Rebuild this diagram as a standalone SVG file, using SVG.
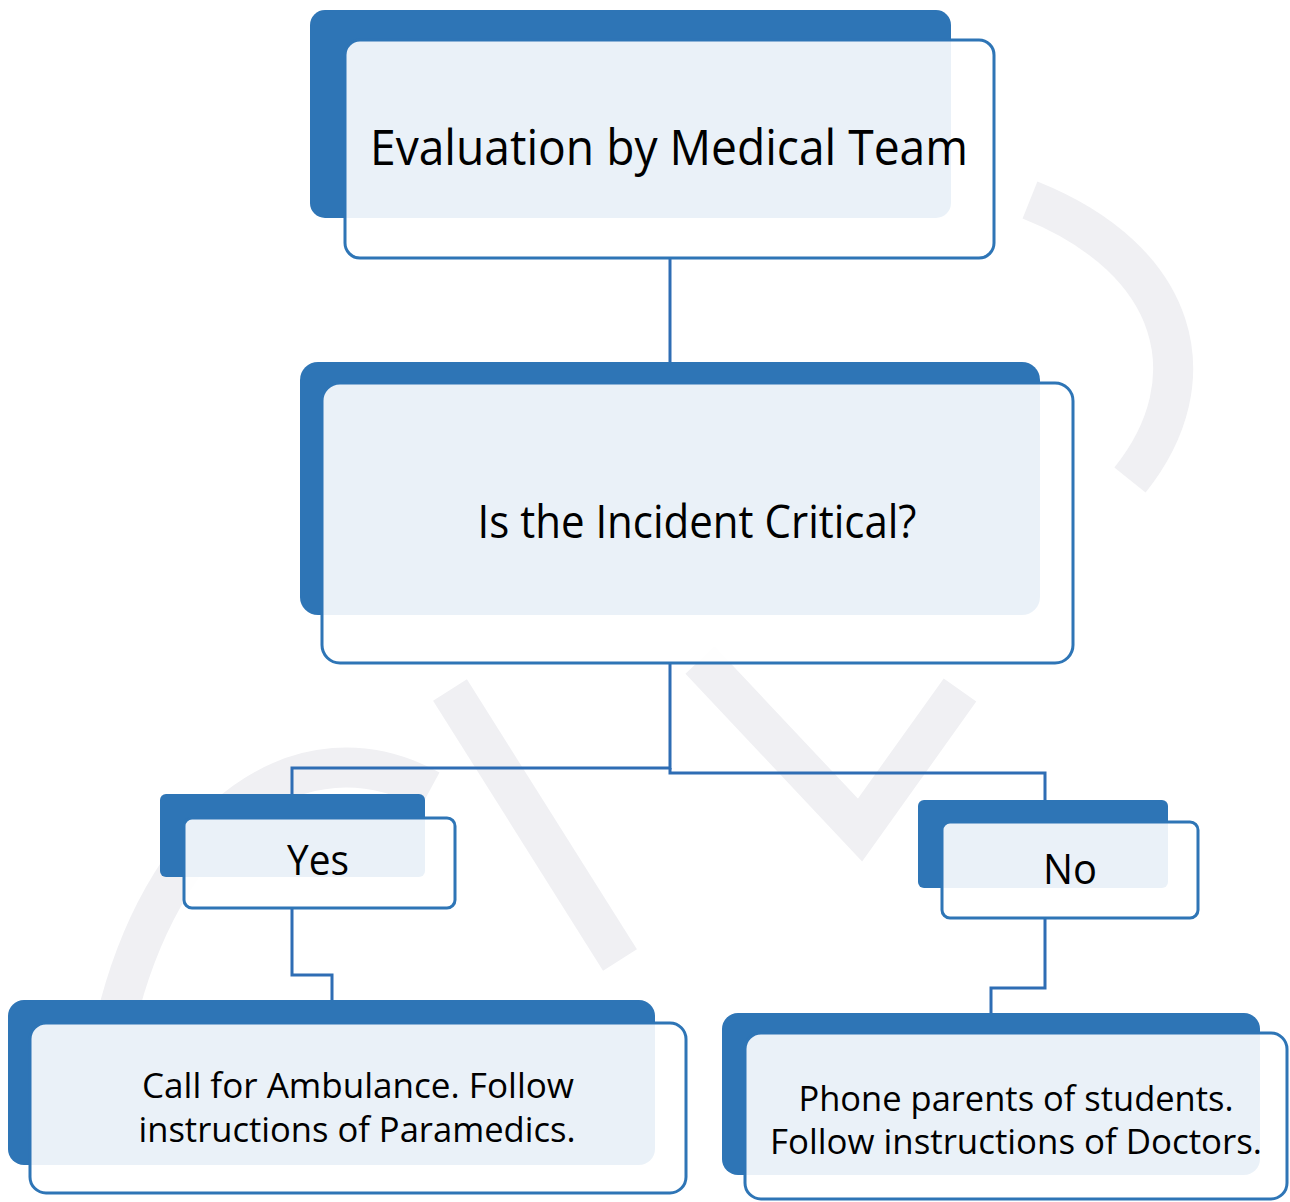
<svg xmlns="http://www.w3.org/2000/svg" width="1290" height="1202" viewBox="0 0 1290 1202">
  <style>
    .back { fill: #2E75B6; }
    .front { fill: #FFFFFF; fill-opacity: 0.9; stroke: #2E75B6; stroke-width: 3; }
    .lbl { font-family: "Open Sans", "Noto Sans", sans-serif; fill: #000000; text-anchor: middle; }
    .conn { fill: none; stroke: #2E6DB4; stroke-width: 3; }
    .wm { fill: none; stroke: #F0F0F3; stroke-width: 40; stroke-linecap: butt; }
  </style>
  <rect width="1290" height="1202" fill="#FFFFFF"/>
  <g id="watermark">
    <path class="wm" d="M 120 1005 C 170 820 300 720 430 790"/>
    <path class="wm" d="M 450 690 L 620 960"/>
    <path class="wm" d="M 700 660 L 860 830 L 960 690"/>
    <path class="wm" d="M 1030 200 C 1180 260 1210 380 1130 480"/>
  </g>
  <g id="connectors">
    <path class="conn" d="M 670 258 V 385" stroke-width="1.5"/>
    <path class="conn" d="M 292 794 V 768 H 670 V 663"/>
    <path class="conn" d="M 670 768 V 773 H 1045 V 800"/>
    <path class="conn" d="M 292 908 V 975 H 332 V 1000"/>
    <path class="conn" d="M 1045 918 V 988 H 991 V 1013"/>
  </g>
  <g id="node-evaluation">
    <rect class="back" x="310" y="10" width="641" height="208" rx="15"/>
    <rect class="front" x="345" y="40" width="649" height="218" rx="15"/>
    <text class="lbl" x="669" y="165" font-size="49" textLength="598" lengthAdjust="spacingAndGlyphs">Evaluation by Medical Team</text>
  </g>
  <g id="node-critical">
    <rect class="back" x="300" y="362" width="740" height="253" rx="18"/>
    <rect class="front" x="322" y="383" width="751" height="280" rx="18"/>
    <text class="lbl" x="697" y="538" font-size="45" textLength="439" lengthAdjust="spacingAndGlyphs">Is the Incident Critical?</text>
  </g>
  <g id="node-yes">
    <rect class="back" x="160" y="794" width="265" height="83" rx="6"/>
    <rect class="front" x="184" y="818" width="271" height="90" rx="8"/>
    <text class="lbl" x="318" y="875" font-size="42" textLength="62" lengthAdjust="spacingAndGlyphs">Yes</text>
  </g>
  <g id="node-no">
    <rect class="back" x="918" y="800" width="250" height="88" rx="6"/>
    <rect class="front" x="942" y="822" width="256" height="96" rx="8"/>
    <text class="lbl" x="1070" y="884" font-size="42" textLength="54" lengthAdjust="spacingAndGlyphs">No</text>
  </g>
  <g id="node-ambulance">
    <rect class="back" x="8" y="1000" width="647" height="165" rx="16"/>
    <rect class="front" x="30" y="1023" width="656" height="170" rx="16"/>
    <text class="lbl" x="358" y="1098" font-size="35" textLength="432" lengthAdjust="spacingAndGlyphs">Call for Ambulance. Follow</text>
    <text class="lbl" x="357" y="1142" font-size="35" textLength="437" lengthAdjust="spacingAndGlyphs">instructions of Paramedics.</text>
  </g>
  <g id="node-parents">
    <rect class="back" x="722" y="1013" width="538" height="162" rx="16"/>
    <rect class="front" x="745" y="1033" width="542" height="166" rx="16"/>
    <text class="lbl" x="1016" y="1111" font-size="35" textLength="435" lengthAdjust="spacingAndGlyphs">Phone parents of students.</text>
    <text class="lbl" x="1016" y="1154" font-size="35" textLength="492" lengthAdjust="spacingAndGlyphs">Follow instructions of Doctors.</text>
  </g>
</svg>
